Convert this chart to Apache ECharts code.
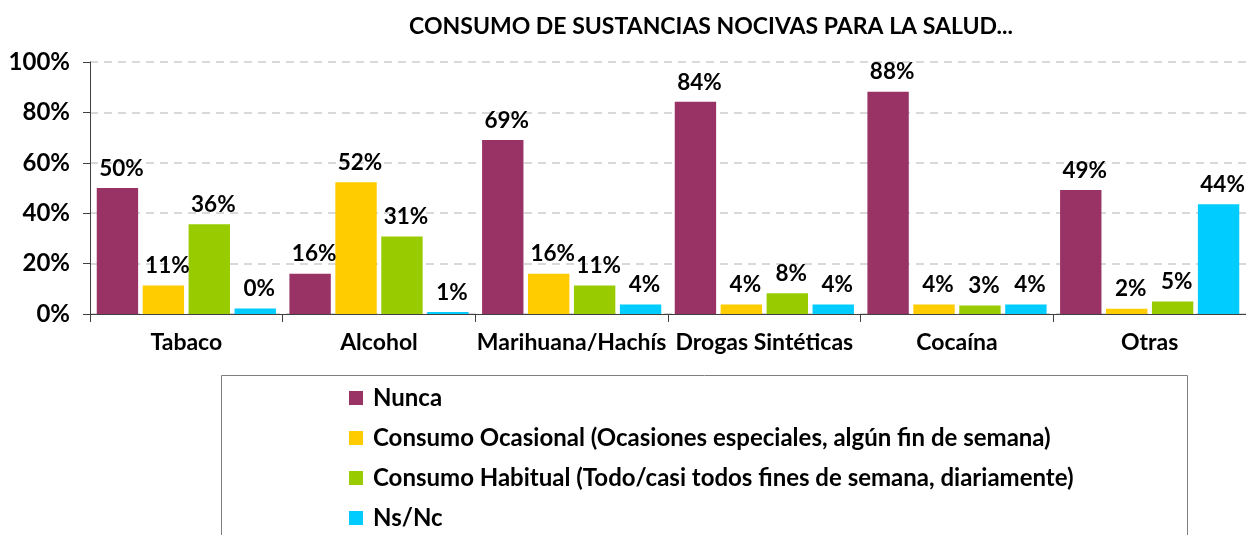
<!DOCTYPE html>
<html>
<head>
<meta charset="utf-8">
<script src="https://cdn.jsdelivr.net/npm/echarts@6/dist/echarts.min.js"></script>
<style>html,body{margin:0;padding:0;background:#fff}#c{width:1246px;height:535px}</style>
</head>
<body>
<div id="c"></div>
<script>
const title = 'CONSUMO DE SUSTANCIAS NOCIVAS PARA LA SALUD...';
const categories = ['Tabaco', 'Alcohol', 'Marihuana/Hachís', 'Drogas Sintéticas', 'Cocaína', 'Otras'];
const seriesNames = ['Nunca', 'Consumo Ocasional (Ocasiones especiales, algún fin de semana)', 'Consumo Habitual (Todo/casi todos fines de semana, diariamente)', 'Ns/Nc'];
const nunca = [50, 16, 69, 84.2, 88.2, 49.2];
const ocasional = [11.3, 52.3, 16, 3.8, 3.8, 2.1];
const habitual = [35.6, 30.8, 11.3, 8.2, 3.4, 5];
const nsnc = [2.2, 0.8, 3.8, 3.8, 3.8, 43.6];
const nuncaLabels = ['50%', '16%', '69%', '84%', '88%', '49%'];
const ocasionalLabels = ['11%', '52%', '16%', '4%', '4%', '2%'];
const habitualLabels = ['36%', '31%', '11%', '8%', '3%', '5%'];
const nsncLabels = ['0%', '1%', '4%', '4%', '4%', '44%'];
const yTicks = [0, 20, 40, 60, 80, 100];
const colors = ['#993366', '#FFCC00', '#99CC00', '#00CCFF'];

const font = 'Lato, "Open Sans", sans-serif';
const chart = echarts.init(document.getElementById('c'), null, {renderer: 'canvas'});
const values = [nunca, ocasional, habitual, nsnc];
const labels = [nuncaLabels, ocasionalLabels, habitualLabels, nsncLabels];

chart.setOption({
  animation: false,
  color: colors,
  title: {
    text: title, left: 706, top: 10, textAlign: 'center',
    textStyle: {fontFamily: font, fontSize: 23, fontWeight: 'bold', color: '#000'}
  },
  grid: {left: 90, right: -2, top: 62, bottom: 221, containLabel: false},
  legend: {
    orient: 'vertical', left: 344, top: 381, itemGap: 16, itemWidth: 14, itemHeight: 14,
    icon: 'rect', data: seriesNames,
    textStyle: {fontFamily: font, fontSize: 24, fontWeight: 'bold', color: '#000', padding: [0,0,0,5]}
  },
  graphic: [{type: 'rect', shape: {x: 221.5, y: 375.5, width: 966, height: 200}, style: {fill: 'none', stroke: '#7f7f7f', lineWidth: 1}, silent: true, z: -1}],
  xAxis: {
    type: 'category', data: categories,
    axisLine: {lineStyle: {color: '#404040', width: 1}},
    axisTick: {show: true, length: 8, inside: false, lineStyle: {color: '#404040'}},
    axisLabel: {fontFamily: font, fontSize: 23, fontWeight: 'bold', color: '#000', margin: 17, interval: 0}
  },
  yAxis: {
    type: 'value', min: 0, max: 100, interval: 20,
    axisLine: {show: true, lineStyle: {color: '#404040'}},
    axisTick: {show: true, length: 7, lineStyle: {color: '#404040'}},
    axisLabel: {fontFamily: font, fontSize: 24, fontWeight: 'bold', color: '#000', margin: 20,
      formatter: v => yTicks.includes(v) ? v + '%' : ''},
    splitLine: {show: true, lineStyle: {color: '#d9d9d9', type: [8, 6], width: 2}}
  },
  series: values.map((arr, i) => ({
    name: seriesNames[i], type: 'bar', data: arr,
    barGap: '11%', barCategoryGap: '7%',
    label: {
      show: true, position: 'top', distance: 8, offset: [4, 0],
      fontFamily: font, fontSize: 22.5, fontWeight: 'bold', color: '#000',
      formatter: p => labels[i][p.dataIndex]
    }
  }))
});
</script>
</body>
</html>
